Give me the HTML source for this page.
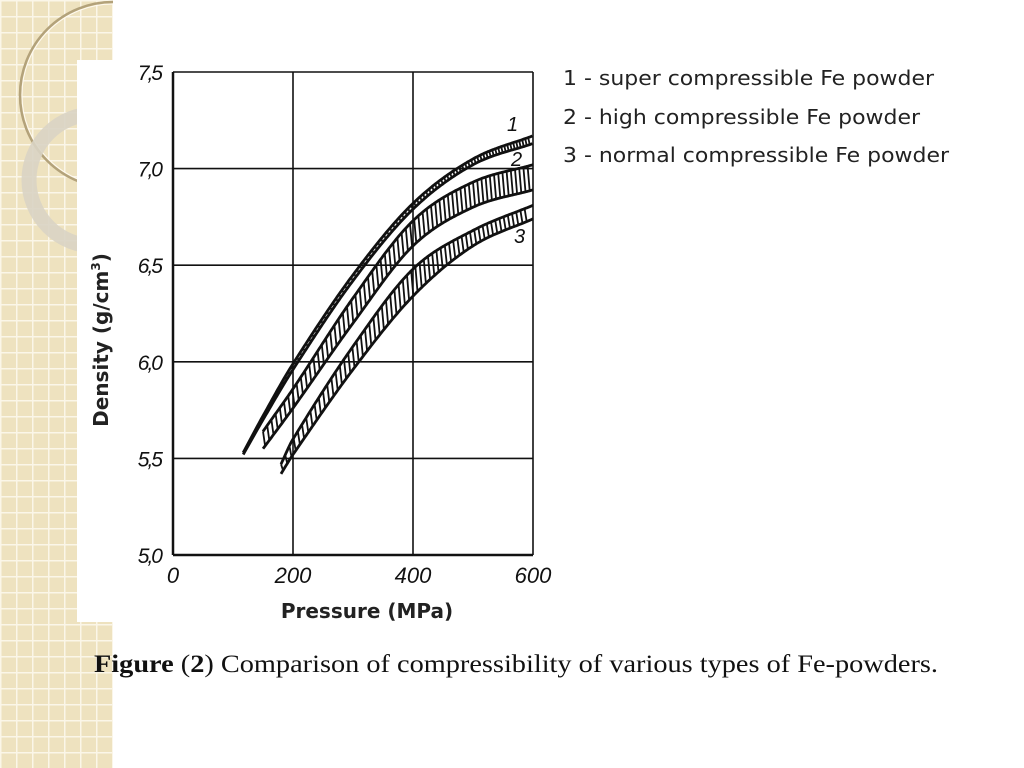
<!DOCTYPE html>
<html><head><meta charset="utf-8"><style>
body{margin:0;width:1024px;height:768px;overflow:hidden;background:#fff;position:relative;font-family:"Liberation Sans",sans-serif}
#strip{position:absolute;left:0;top:0;width:113px;height:768px;background-color:#eee2bf;
background-image:linear-gradient(#fbf6e8 1.5px,transparent 1.5px),linear-gradient(90deg,#fbf6e8 1.5px,transparent 1.5px);background-size:16px 16px}
</style></head><body>
<div id="strip"></div>
<svg width="1024" height="768" style="position:absolute;left:0;top:0">
<defs><clipPath id="cl"><rect x="0" y="0" width="113" height="768"/></clipPath></defs>
<g clip-path="url(#cl)">
<circle cx="113" cy="95" r="93" fill="none" stroke="#b3a27a" stroke-width="2.5"/>
<circle cx="113" cy="95" r="91" fill="none" stroke="#fffaf0" stroke-width="1"/>
<circle cx="95" cy="180" r="66" fill="none" stroke="#d9d4c4" stroke-width="15" opacity="0.9"/>
</g>
<rect x="77" y="60" width="478" height="562" fill="#fff"/>
<g id="chart"></g>
<g font-family="'DejaVu Sans','Liberation Sans',sans-serif" font-size="20.5" fill="#222">
<text x="563" y="85" textLength="371" lengthAdjust="spacingAndGlyphs">1 - super compressible Fe powder</text>
<text x="563" y="124" textLength="357" lengthAdjust="spacingAndGlyphs">2 - high compressible Fe powder</text>
<text x="563" y="162" textLength="386" lengthAdjust="spacingAndGlyphs">3 - normal compressible Fe powder</text>
</g>
<text x="94" y="672" font-family="'Liberation Serif',serif" font-size="25" textLength="844" lengthAdjust="spacingAndGlyphs" fill="#111"><tspan font-weight="bold">Figure</tspan> (<tspan font-weight="bold">2</tspan>) Comparison of compressibility of various types of Fe-powders.</text>
</svg>
<script>
const xTicks=[0,200,400,600];
const yTicks=[5.0,5.5,6.0,6.5,7.0,7.5];
const yTickLabels=["5,0","5,5","6,0","6,5","7,0","7,5"];
const p1=[117,150,200,300,400,500,600];
const up1=[5.53,5.72,5.99,6.45,6.82,7.05,7.17];
const lo1=[5.52,5.70,5.96,6.42,6.79,7.02,7.13];
const p2=[150,200,300,400,500,600];
const up2=[5.64,5.86,6.33,6.73,6.93,7.02];
const lo2=[5.55,5.76,6.20,6.60,6.80,6.89];
const p3=[180,200,300,400,500,600];
const up3=[5.47,5.60,6.08,6.48,6.68,6.81];
const lo3=[5.42,5.52,5.96,6.34,6.60,6.74];
const NS="http://www.w3.org/2000/svg";
const X0=173,X1=533,Y0=555,Y1=72;
const sx=p=>X0+(p-0)/600*(X1-X0);
const sy=d=>Y0-(d-5)/2.5*(Y0-Y1);
const g=document.getElementById('chart');
function mk(t,a){const e=document.createElementNS(NS,t);for(const k in a)e.setAttribute(k,a[k]);g.appendChild(e);return e;}
xTicks.forEach((t,i)=>{const l=mk('line',{x1:sx(t),x2:sx(t),y1:Y1,y2:Y0,stroke:'#111','stroke-width':i==0?2.5:1.6});


const tx=mk('text',{x:sx(t),y:583,'text-anchor':'middle','font-size':22,'font-style':'italic','font-family':"'Liberation Sans',sans-serif",fill:'#111'});
tx.textContent=t;

});
yTicks.forEach((t,i)=>{const l=mk('line',{x1:X0,x2:X1,y1:sy(t),y2:sy(t),stroke:'#111','stroke-width':i==0?2.5:1.6});


const tx=mk('text',{x:161,y:sy(t)+8,'text-anchor':'end','font-size':21,'font-style':'italic','font-family':"'Liberation Sans',sans-serif",fill:'#111','letter-spacing':'-2'});
tx.textContent=yTickLabels[i];

});
function interp(ps,vs,p){const n=ps.length;
 const m=vs.map((v,i)=>{if(i==0)return (vs[1]-vs[0])/(ps[1]-ps[0]);if(i==n-1)return (vs[n-1]-vs[n-2])/(ps[n-1]-ps[n-2]);return (vs[i+1]-vs[i-1])/(ps[i+1]-ps[i-1]);});
 for(let i=0;i<n-1;i++){if(p<=ps[i+1]||i==n-2){const h=ps[i+1]-ps[i],t=(p-ps[i])/h,t2=t*t,t3=t2*t;
 return (2*t3-3*t2+1)*vs[i]+(t3-2*t2+t)*h*m[i]+(-2*t3+3*t2)*vs[i+1]+(t3-t2)*h*m[i+1];}}}
function smooth(ps,vs){let d='';for(let p=ps[0];p<=ps[ps.length-1]+0.01;p+=2){d+=(d?'L':'M')+sx(p).toFixed(1)+','+sy(interp(ps,vs,p)).toFixed(1);}return d;}
function band(ps,up,lo,name,step){
const a=mk('path',{d:smooth(ps,up),fill:'none',stroke:'#111','stroke-width':2.8});


const b=mk('path',{d:smooth(ps,lo),fill:'none',stroke:'#111','stroke-width':2.8});


let d='';for(let p=ps[0];p<ps[ps.length-1]-step;p+=step){d+='M'+sx(p).toFixed(1)+','+sy(interp(ps,up,p)).toFixed(1)+'L'+sx(p+step*0.5).toFixed(1)+','+sy(interp(ps,lo,p+step*0.5)).toFixed(1);}
const h=mk('path',{d:d,stroke:'#111','stroke-width':1.8,fill:'none'});

}
band(p1,up1,lo1,'band-1',5);band(p2,up2,lo2,'band-2',7);band(p3,up3,lo3,'band-3',7);
[['1',507,131],['2',511,166],['3',514,243]].forEach(c=>{const t=mk('text',{x:c[1],y:c[2],'font-size':20,'font-style':'italic',fill:'#111'});t.textContent=c[0];

});
const xt=mk('text',{x:367,y:618,'text-anchor':'middle','font-size':20,'font-weight':'bold','font-family':"'DejaVu Sans',sans-serif",fill:'#222'});
xt.textContent='Pressure (MPa)';


const yt=mk('text',{x:0,y:0,transform:'translate(108,340) rotate(-90)','text-anchor':'middle','font-size':20,'font-weight':'bold','font-family':"'DejaVu Sans',sans-serif",fill:'#222'});
yt.innerHTML='Density (g/cm<tspan dy="-8" font-size="12">3</tspan><tspan dy="8">)</tspan>';


</script>
</body></html>
